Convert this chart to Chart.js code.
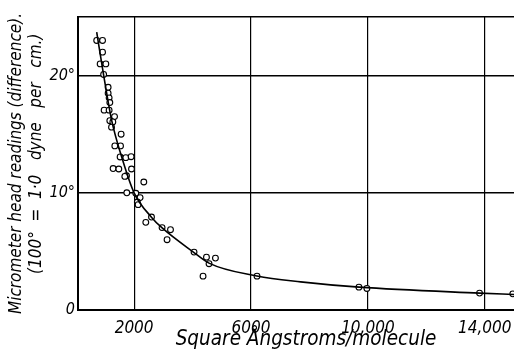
<!DOCTYPE html>
<html>
<head>
<meta charset="utf-8">
<script src="https://cdn.jsdelivr.net/npm/chart.js@4"></script>
<style>
  html, body { margin: 0; padding: 0; background: #fff; overflow: hidden; }
  #wrap { width: 514px; height: 354px; overflow: hidden; }
</style>
</head>
<body>
<div id="wrap"><canvas id="myChart" width="534" height="354"></canvas></div>
<script>
// observed readings (area per molecule, micrometer difference)
const pointX = [720, 920, 920, 838, 1033, 957, 1111, 1111, 1145, 1169, 974, 1145, 1330, 1169, 1272, 1227,
  1556, 1340, 1535, 1521, 1716, 1898, 1282, 1477, 1911, 1740, 1682, 2332, 1750, 2058, 2205, 2110, 2137,
  2595, 2400, 2957, 3245, 3128, 4051, 4476, 4783, 4564, 4359, 6206, 9693, 9966, 13820, 14958];
const pointY = [23.0, 23.0, 22.0, 21.0, 21.0, 20.1, 19.0, 18.5, 18.1, 17.7, 17.05, 17.05, 16.5, 16.15, 16.05, 15.6,
  15.0, 14.0, 14.0, 13.06, 13.0, 13.08, 12.07, 12.03, 12.03, 11.45, 11.4, 10.92, 10.0, 9.96, 9.59, 9.21, 8.99,
  7.93, 7.48, 7.03, 6.85, 6.0, 4.94, 4.51, 4.43, 3.95, 2.89, 2.89, 1.95, 1.84, 1.44, 1.38];

// drawn curve
const curveX = [720, 960, 1230, 1570, 2000, 2600, 2960, 4050, 4560, 6200, 7700, 9700, 13820, 15000];
const curveY = [23.7, 20.0, 16.2, 13.1, 10.0, 7.9, 7.0, 4.9, 4.0, 2.9, 2.4, 1.95, 1.44, 1.32];

const xTicks = [2000, 6000, 10000, 14000];
const xTickLabels = ['2000', '6000', '10,000', '14,000'];
const yTicks = [0, 10, 20, 25];
const yTickLabels = ['0', '10°', '20°', ''];

const font = "'DejaVu Sans Condensed', 'DejaVu Sans', sans-serif";

// the plot runs past the right edge of the window, as in the cropped original
const ctx = document.getElementById('myChart');
new Chart(ctx, {
  type: 'scatter',
  data: {
    datasets: [{
      type: 'line',
      data: curveX.map((x, i) => ({x: x, y: curveY[i]})),
      borderColor: '#000',
      borderWidth: 1.6,
      pointRadius: 0,
      cubicInterpolationMode: 'monotone',
      fill: false
    }, {
      data: pointX.map((x, i) => ({x: x, y: pointY[i]})),
      pointStyle: 'circle',
      pointRadius: 2.9,
      pointBorderWidth: 1.1,
      pointBorderColor: '#000',
      pointBackgroundColor: '#fff'
    }]
  },
  options: {
    responsive: false,
    animation: false,
    events: [],
    layout: { autoPadding: false, padding: { top: 17, right: 0, left: 0, bottom: 0 } },
    plugins: { legend: { display: false }, tooltip: { enabled: false } },
    scales: {
      x: {
        type: 'linear',
        min: 80,
        max: 15684,
        afterFit: s => { s.height = 44; s.paddingRight = 0; s.paddingLeft = 0; },
        afterBuildTicks: s => { s.ticks = xTicks.map(v => ({value: v})); },
        grid: { color: '#000', lineWidth: 1.2, drawTicks: false },
        border: { color: '#000', width: 2 },
        ticks: {
          color: '#000',
          padding: 8,
          maxRotation: 0,
          autoSkip: false,
          font: { family: font, size: 17, style: 'italic' },
          callback: (v) => xTickLabels[xTicks.indexOf(v)]
        },
        title: {
          display: true,
          text: 'Square Ångstroms/molecule',
          color: '#000',
          padding: { top: 0, bottom: 2 },
          font: { family: font, size: 20.5, style: 'italic', lineHeight: 1.2 }
        }
      },
      y: {
        type: 'linear',
        min: 0,
        max: 25,
        afterFit: s => { s.width = 78; },
        afterBuildTicks: s => { s.ticks = yTicks.map(v => ({value: v})); },
        grid: { color: '#000', lineWidth: 1.4, drawTicks: false },
        border: { color: '#000', width: 2 },
        ticks: {
          color: '#000',
          padding: 3,
          font: { family: font, size: 16, style: 'italic' },
          callback: (v) => yTickLabels[yTicks.indexOf(v)]
        },
        title: {
          display: true,
          text: ['Micrometer head readings (difference).', '    (100°  =  1·0   dyne   per   cm.)'],
          color: '#000',
          padding: { top: 6, bottom: 0 },
          font: { family: font, size: 17, style: 'italic', lineHeight: 1.2 }
        }
      }
    }
  }
});
</script>
</body>
</html>
